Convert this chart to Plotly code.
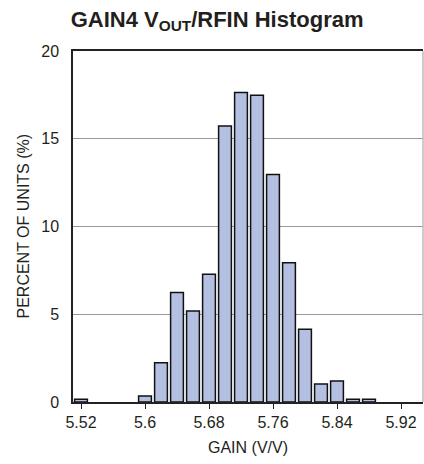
import plotly.graph_objects as go

# Histogram data
gain_bins = [5.52, 5.60, 5.62, 5.64, 5.66, 5.68, 5.70, 5.72, 5.74, 5.76,
             5.78, 5.80, 5.82, 5.84, 5.86, 5.88]
percent_units = [0.15, 0.34, 2.24, 6.24, 5.19, 7.28, 15.73, 17.63, 17.48, 12.97,
                 7.94, 4.15, 1.02, 1.19, 0.15, 0.15]
x_ticks = [5.52, 5.6, 5.68, 5.76, 5.84, 5.92]
x_tick_labels = ["5.52", "5.6", "5.68", "5.76", "5.84", "5.92"]
y_ticks = [0, 5, 10, 15, 20]

FONT = "Liberation Sans, Arial, Helvetica, sans-serif"
TXT = "#231f20"

fig = go.Figure()
fig.add_trace(go.Bar(
    x=gain_bins, y=percent_units, width=0.0160,
    marker=dict(color="#b3c0e2", line=dict(color="#111111", width=1.5)),
    hoverinfo="x+y",
))

fig.update_layout(
    width=424, height=464,
    margin=dict(l=73, r=1, t=51, b=62, autoexpand=False),
    paper_bgcolor="white", plot_bgcolor="white",
    showlegend=False,
    font=dict(family=FONT, color=TXT, size=16),
    title=dict(
        text="<b>GAIN4 V<sub>OUT</sub>/RFIN Histogram</b>",
        x=0.512, xanchor="center", xref="container",
        y=0.959, yanchor="middle", yref="container",
        font=dict(family=FONT, size=22, color=TXT),
    ),
    xaxis=dict(
        range=[5.51, 5.9475], tickvals=x_ticks, ticktext=x_tick_labels,
        showgrid=False, zeroline=False, automargin=False,
        showline=True, linecolor="#222222", linewidth=1.5, mirror=True,
        ticks="outside", ticklen=5, tickwidth=1.2, tickcolor="#222222",
        tickfont=dict(size=16, family=FONT, color=TXT),
    ),
    yaxis=dict(
        range=[0, 20], tickvals=y_ticks, automargin=False,
        showgrid=True, gridcolor="#9a9a9a", gridwidth=1.3, zeroline=False,
        showline=True, linecolor="#222222", linewidth=1.5,
        ticks="", ticklabelstandoff=9,
        tickfont=dict(size=16, family=FONT, color=TXT),
    ),
    annotations=[
        dict(text="GAIN (V/V)", xref="paper", yref="paper", x=0.5, y=0,
             xanchor="center", yanchor="middle", yshift=-45, showarrow=False,
             font=dict(size=16, family=FONT, color=TXT)),
        dict(text="PERCENT OF UNITS (%)", xref="paper", yref="paper", x=0, y=0.5,
             xanchor="center", yanchor="middle", xshift=-50, textangle=-90,
             showarrow=False, font=dict(size=16, family=FONT, color=TXT)),
    ],
    shapes=[dict(type="line", xref="paper", yref="paper", x0=1, x1=1, y0=0, y1=1,
                 line=dict(color="#b0b0b0", width=1.3))],
)

fig.write_html(
    "out.html",
    config={"displayModeBar": False},
    post_script="document.body.style.margin='0';document.body.style.overflow='hidden';",
)
